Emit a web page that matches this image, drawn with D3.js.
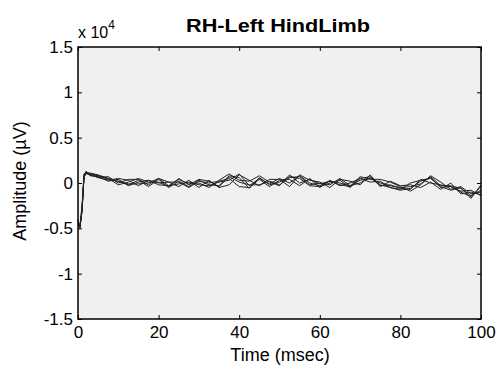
<!DOCTYPE html>
<html><head><meta charset="utf-8">
<script src="https://cdn.jsdelivr.net/npm/d3@7/dist/d3.min.js"></script>
<style>body{margin:0;background:#fff}svg{display:block}</style>
</head><body>
<script>
const title = "RH-Left HindLimb";
const xLabel = "Time (msec)";
const yLabel = "Amplitude (\u00B5V)";
const xTicks = [0, 20, 40, 60, 80, 100];
const yTicks = [-1.5, -1, -0.5, 0, 0.5, 1, 1.5];
const yTickLabels = ["-1.5", "-1", "-0.5", "0", "0.5", "1", "1.5"];
const time = [0,0.5,1,1.5,2,3,5,7.5,10,12.5,15,17.5,20,22.5,25,27.5,30,32.5,35,37.5,40,42.5,45,47.5,50,52.5,55,57.5,60,62.5,65,67.5,70,72.5,75,77.5,80,82.5,85,87.5,90,92.5,95,97.5,100];
// amplitude in units of x10^4 uV
const s1 = [-0.45,-0.48,-0.3,0.08,0.12,0.1,0.08,0.05,0.02,-0.02, 0.03,-0.04,0.04,-0.05,0.02,-0.04,0.03,-0.02,-0.03,0.08, 0.06,-0.06,0.06,-0.02,0.01,0.07,0.05,-0.03,-0.04,0.0, 0.03,-0.05,0.05,0.07,-0.02,-0.05,-0.08,-0.06,0.02,0.06, -0.05,-0.04,-0.1,-0.15,-0.04];
const s2 = [-0.4,-0.5,-0.28,0.1,0.11,0.09,0.06,0.03,0.05,0.03, -0.03,0.03,-0.02,-0.03,0.04,-0.01,0.0,-0.05,0.03,0.1, 0.03,0.02,0.08,0.01,-0.03,0.09,0.0,0.04,-0.01,0.02, -0.02,-0.04,0.07,0.04,0.04,0.01,-0.04,-0.09,-0.02,0.08, 0.01,-0.07,-0.04,-0.12,-0.1];
const s3 = [-0.44,-0.46,-0.25,0.07,0.1,0.1,0.06,0.07,0.0,0.04, 0.04,-0.02,0.05,0.01,-0.04,0.03,-0.05,0.03,-0.05,-0.02, 0.09,0.03,-0.03,0.04,0.04,-0.04,0.09,0.03,0.01,-0.05, 0.04,0.02,-0.02,0.09,-0.04,0.02,-0.03,-0.02,-0.05,0.01, -0.07,0.0,-0.12,-0.1,-0.13];
const s4 = [-0.46,-0.47,-0.32,0.09,0.12,0.08,0.07,0.02,0.04,-0.03, 0.01,0.03,0.0,0.01,0.01,-0.05,0.02,0.0,0.02,0.05, -0.04,-0.05,0.04,-0.04,0.03,0.04,-0.03,0.05,-0.05,0.03, -0.03,0.0,0.05,0.01,0.02,-0.05,-0.07,0.0,0.03,0.05, -0.04,-0.08,-0.05,-0.17,-0.02];
const s5 = [-0.43,-0.49,-0.3,0.06,0.11,0.11,0.09,0.05,-0.02,0.01, 0.05,0.01,0.01,-0.04,0.05,-0.02,0.04,0.02,-0.04,0.07, 0.01,-0.02,-0.02,0.02,-0.02,0.06,0.07,-0.02,0.0,-0.02, 0.05,-0.03,0.0,0.06,-0.03,-0.02,-0.06,-0.07,0.04,0.0, -0.02,-0.04,-0.09,-0.08,-0.14];
const s6 = [-0.45,-0.48,-0.29,0.08,0.13,0.09,0.08,0.04,0.02,-0.01, -0.01,0.0,0.05,-0.03,-0.01,0.01,-0.02,-0.03,0.01,0.03, 0.1,-0.03,0.05,-0.01,0.05,0.0,0.08,0.0,-0.03,0.02, 0.0,-0.03,0.03,0.05,0.0,-0.03,-0.05,-0.04,-0.01,0.07, -0.03,-0.03,-0.06,-0.14,-0.08];
const series = [s1, s2, s3, s4, s5, s6];

const W = 497, H = 366;
const m = {left: 78, top: 47, right: 481, bottom: 319};
const FONT = "'Liberation Sans', Arial, sans-serif";
const svg = d3.select("body").append("svg").attr("width", W).attr("height", H)
  .style("font-family", FONT);

const x = d3.scaleLinear().domain([0, 100]).range([m.left, m.right]);
const y = d3.scaleLinear().domain([-1.5, 1.5]).range([m.bottom, m.top]);

svg.append("rect").attr("x", m.left).attr("y", m.top)
  .attr("width", m.right - m.left).attr("height", m.bottom - m.top).attr("fill", "#f0f0f0");

const line = d3.line().x((d, i) => x(time[i])).y(d => y(d));
svg.append("g").selectAll("path").data(series).join("path")
  .attr("d", line).attr("fill", "none").attr("stroke", "#222").attr("stroke-width", 1);

const fmtY = (d) => yTickLabels[yTicks.indexOf(d)];
const gx = svg.append("g").attr("transform", `translate(0,${m.bottom})`)
  .call(d3.axisBottom(x).tickValues(xTicks).tickSizeInner(-4).tickSizeOuter(0).tickPadding(7));
const gxt = svg.append("g").attr("transform", `translate(0,${m.top})`)
  .call(d3.axisTop(x).tickValues(xTicks).tickSizeInner(-4).tickSizeOuter(0).tickFormat(""));
const gy = svg.append("g").attr("transform", `translate(${m.left},0)`)
  .call(d3.axisLeft(y).tickValues(yTicks).tickSizeInner(-4).tickSizeOuter(0).tickPadding(5).tickFormat(fmtY));
const gyr = svg.append("g").attr("transform", `translate(${m.right},0)`)
  .call(d3.axisRight(y).tickValues(yTicks).tickSizeInner(-4).tickSizeOuter(0).tickFormat(""));
[gx, gxt, gy, gyr].forEach(g => {
  g.select(".domain").remove();
  g.selectAll("line").attr("stroke", "#000");
  g.selectAll("text").attr("font-size", 17).attr("fill", "#000").attr("font-family", FONT);
});
svg.append("rect").attr("x", m.left).attr("y", m.top)
  .attr("width", m.right - m.left).attr("height", m.bottom - m.top)
  .attr("fill", "none").attr("stroke", "#000").attr("stroke-width", 1.5);

svg.append("text").attr("x", 278).attr("y", 32).attr("text-anchor", "middle")
  .attr("font-size", 19).attr("font-weight", "bold")
  .attr("textLength", 184).attr("lengthAdjust", "spacingAndGlyphs").text(title);
svg.append("text").attr("x", 280).attr("y", 361).attr("text-anchor", "middle")
  .attr("font-size", 18).text(xLabel);
svg.append("text").attr("transform", `translate(26,${y(0) - 2}) rotate(-90)`).attr("text-anchor", "middle")
  .attr("font-size", 18).text(yLabel);
const ex = svg.append("text").attr("x", 78).attr("y", 38).attr("font-size", 16);
ex.append("tspan").text("x 10");
ex.append("tspan").attr("dy", -9).attr("font-size", 12).text("4");
</script>
</body></html>
